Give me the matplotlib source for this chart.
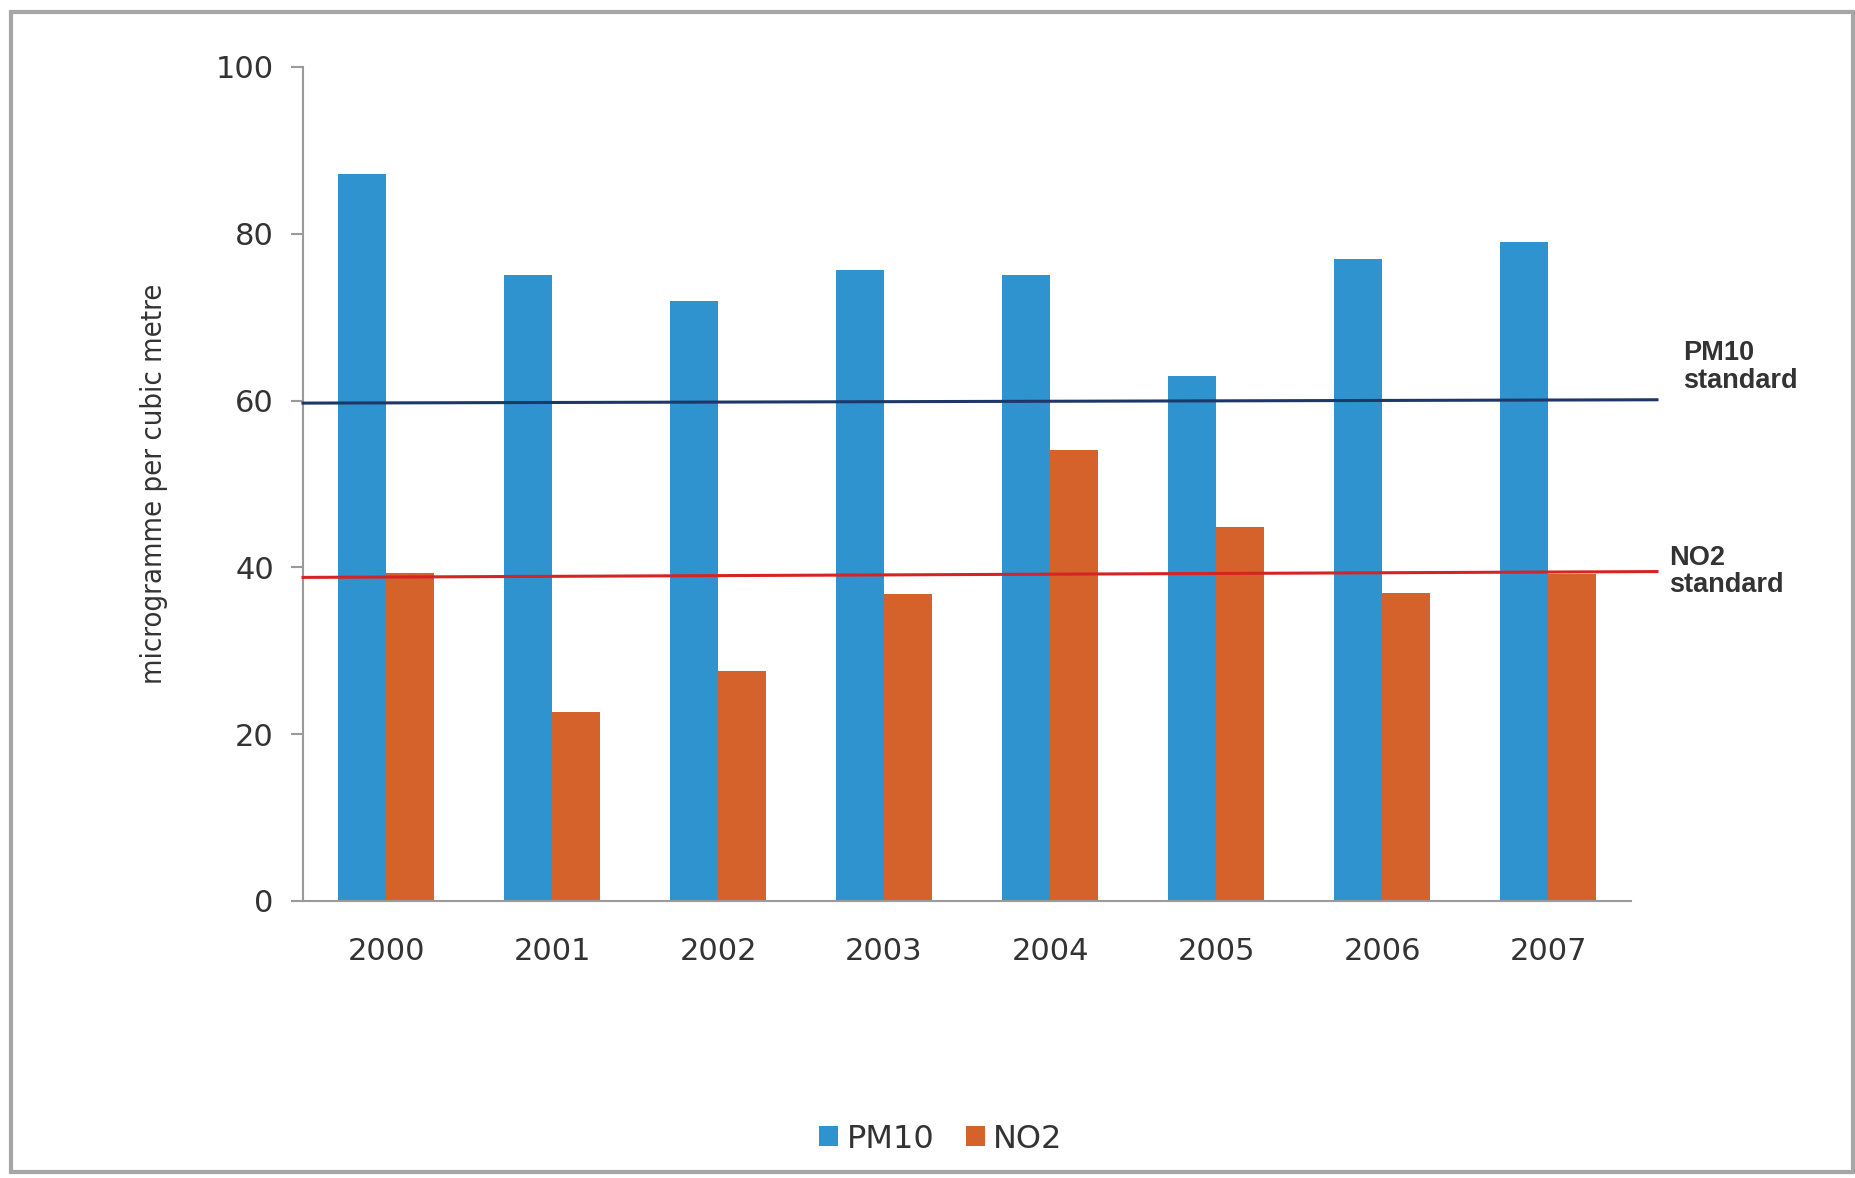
import matplotlib
matplotlib.use("Agg")
import matplotlib.pyplot as plt
import numpy as np
from matplotlib.patches import Rectangle

years = ["2000", "2001", "2002", "2003", "2004", "2005", "2006", "2007"]
pm10 = [87.2, 75.1, 72.0, 75.7, 75.1, 62.9, 77.0, 79.0]
no2 = [39.3, 22.7, 27.6, 36.8, 54.1, 44.9, 36.9, 39.2]
pm10_standard = [59.7, 60.1]
no2_standard = [38.8, 39.5]
series_names = ["PM10", "NO2"]
yticks = [0, 20, 40, 60, 80, 100]

W, H = 1856, 1178
fig = plt.figure(figsize=(W / 100, H / 100), dpi=100)
fig.patch.set_facecolor("white")

# outer frame
fig.patches.append(Rectangle((11 / W, 1 - 1172 / H), (1853 - 11) / W, (1172 - 12) / H,
                             transform=fig.transFigure, fill=False,
                             edgecolor="#a6a6a6", linewidth=3))

ax = fig.add_axes([303 / W, 1 - 901 / H, (1631 - 303) / W, (901 - 67) / H])

x = np.arange(len(years))
bw = 0.29
c_pm = "#2E93CF"
c_no = "#D6622B"
ax.bar(x - bw / 2, pm10, width=bw, color=c_pm, label=series_names[0], zorder=2)
ax.bar(x + bw / 2, no2, width=bw, color=c_no, label=series_names[1], zorder=2)

x_end = 7.5 + 26 / 166
ax.plot([-0.5, x_end], pm10_standard, color="#1F3768", linewidth=2.2, clip_on=False, zorder=3)
ax.plot([-0.5, x_end], no2_standard, color="#D42424", linewidth=2.2, clip_on=False, zorder=3)

ax.set_xlim(-0.5, 7.5)
ax.set_ylim(0, 100)
ax.set_yticks(yticks)
ax.set_xticks(x)
ax.set_xticklabels(years)

for s in ["top", "right"]:
    ax.spines[s].set_visible(False)
for s in ["left", "bottom"]:
    ax.spines[s].set_color("#9a9a9a")
    ax.spines[s].set_linewidth(1.5)

ax.tick_params(axis="y", length=9, width=1.5, color="#9a9a9a", labelsize=22,
               labelcolor="#333333", pad=12)
ax.tick_params(axis="x", length=0, labelsize=22, labelcolor="#333333", pad=26)

ax.set_ylabel("microgramme per cubic metre",
              family=["DejaVu Sans"], fontstretch="condensed",
              fontsize=21, color="#333333", labelpad=34)

fig.text(1683 / W, 1 - 367 / H, "PM10\nstandard", fontsize=19.5, fontweight="bold",
         color="#333333", ha="left", va="center", linespacing=1.05,
         family=["Liberation Sans", "DejaVu Sans"])
fig.text(1669 / W, 1 - 572 / H, "NO2\nstandard", fontsize=19.5, fontweight="bold",
         color="#333333", ha="left", va="center", linespacing=1.05,
         family=["Liberation Sans", "DejaVu Sans"])

leg = ax.legend(loc="center", bbox_to_anchor=(941 / W, 1 - 1139 / H),
                bbox_transform=fig.transFigure, ncol=2, frameon=False,
                fontsize=23, handlelength=0.6, handleheight=0.6,
                handletextpad=0.25, columnspacing=1.0)
for t in leg.get_texts():
    t.set_color("#333333")

fig.savefig("out.png", dpi=100, facecolor="white")
